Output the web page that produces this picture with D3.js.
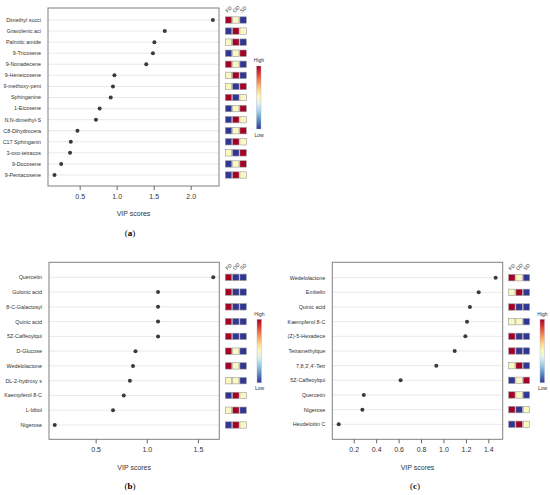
<!DOCTYPE html>
<html>
<head>
<meta charset="utf-8">
<script src="https://cdn.jsdelivr.net/npm/d3@7"></script>
<style>
  body { margin: 0; background: white; }
  svg { font-family: "Liberation Sans", Arial, sans-serif; }
</style>
</head>
<body>
<svg id="chart" width="550" height="495"></svg>
<script>
// group names for the heatmap columns
const groups = ["FD", "OD", "SD"];

// panel (a)
const namesA = ["Dimethyl succi", "Gravolenic aci", "Palmitic amide", "9-Tricosene", "9-Nonadecene",
    "9-Heneicosene", "9-methoxy-pent", "Sphinganine", "1-Eicosene", "N,N-dimethyl-S",
    "C8-Dihydrocera", "C17 Sphinganin", "3-oxo-tetracos", "9-Docosene", "9-Pentacosene"];
const vipA = [2.30, 1.65, 1.51, 1.49, 1.40, 0.97, 0.95, 0.92, 0.77, 0.72, 0.47, 0.38, 0.37, 0.25, 0.16];
// 1 = high, 0 = middle, -1 = low
const heatA = [[1, 0, -1], [-1, 1, 0], [0, 1, -1], [-1, 0, 1], [1, 0, -1],
    [0, 1, -1], [0, -1, 1], [1, -1, 0], [-1, 0, 1], [-1, 1, 0],
    [-1, 0, 1], [-1, 1, 0], [0, -1, 1], [-1, 0, 1], [-1, 1, 0]];
const ticksA = [0.5, 1.0, 1.5, 2.0];

// panel (b)
const namesB = ["Quercetin", "Gulonic acid", "8-C-Galactosyl", "Quinic acid", "5Z-Caffeoylqui",
    "D-Glucose", "Wedelolactone", "DL-2-hydroxy s", "Kaempferol 8-C", "L-Iditol", "Nigerose"];
const vipB = [1.65, 1.11, 1.11, 1.11, 1.11, 0.89, 0.865, 0.835, 0.775, 0.67, 0.10];
const heatB = [[1, -1, -1], [1, -1, -1], [1, -1, -1], [1, -1, -1], [1, -1, -1],
    [1, 0, -1], [1, 0, -1], [0, 0, -1], [-1, 1, 0], [0, 1, -1], [-1, 1, 0]];
const ticksB = [0.5, 1.0, 1.5];

// panel (c)
const namesC = ["Wedelolactone", "Embelin", "Quinic acid", "Kaempferol 8-C", "(Z)-5-Hexadece",
    "Tetramethylque", "7,8,3',4'-Tetr", "5Z-Caffeoylqui", "Quercetin", "Nigerose", "Heudelottin C"];
const vipC = [1.465, 1.314, 1.236, 1.21, 1.195, 1.10, 0.936, 0.618, 0.29, 0.277, 0.066];
const heatC = [[1, 0, -1], [0, 1, -1], [1, -1, -1], [0, 0, -1], [1, -1, -1],
    [1, -1, -1], [0, 1, -1], [-1, 0, 1], [1, 0, -1], [1, -1, 0], [-1, 1, 0]];
const ticksC = [0.2, 0.4, 0.6, 0.8, 1.0, 1.2, 1.4];

const svg = d3.select("#chart");

// shared colour scale for heat cells and legend
const color = d3.scaleSequential(t => d3.interpolateRdYlBu(1 - t)).domain([-1, 1]);

// vertical gradient for the colour keys
const grad = svg.append("defs").append("linearGradient")
    .attr("id", "key").attr("x1", 0).attr("y1", 1).attr("x2", 0).attr("y2", 0);
d3.range(0, 1.001, 0.1).forEach(t => {
    grad.append("stop").attr("offset", t).attr("stop-color", color(-1 + 2 * t));
});

// draws one VIP panel
function drawPanel(p) {
    const g = svg.append("g");

    const x = d3.scaleLinear().domain(p.domain).range([p.left, p.right]);
    const y = d3.scalePoint().domain(p.names).range([p.rowTop, p.rowBottom]);

    // grid lines
    g.selectAll(".grid").data(p.names).enter().append("line")
        .attr("x1", p.left).attr("x2", p.right)
        .attr("y1", d => y(d)).attr("y2", d => y(d))
        .attr("stroke", "#e6e6e6").attr("stroke-width", 0.9);

    // frame
    g.append("rect")
        .attr("x", p.left).attr("y", p.top)
        .attr("width", p.right - p.left).attr("height", p.bottom - p.top)
        .attr("fill", "none").attr("stroke", "#808080").attr("stroke-width", 1);

    // row labels
    g.selectAll(".lab").data(p.names).enter().append("text")
        .attr("x", p.left - 7).attr("y", d => y(d))
        .attr("dy", "0.35em").attr("text-anchor", "end")
        .style("font-size", "5.4px").attr("fill", "#333")
        .text(d => d);

    // points
    g.selectAll(".pt").data(p.vip).enter().append("circle")
        .attr("cx", d => x(d)).attr("cy", (d, i) => y(p.names[i]))
        .attr("r", 2).attr("fill", "#3a3a3a");

    // x axis
    const axis = g.append("g")
        .attr("transform", "translate(0," + p.bottom + ")")
        .call(d3.axisBottom(x).tickValues(p.ticks).tickFormat(d3.format(".1f")).tickSize(4).tickPadding(4));
    axis.select(".domain").remove();
    axis.selectAll("line").attr("stroke", "#666");
    axis.selectAll("text").style("font-size", "7px").attr("fill", "#333");

    // axis title
    g.append("text")
        .attr("x", (p.left + p.right) / 2).attr("y", p.bottom + 28)
        .attr("dy", "0.35em").attr("text-anchor", "middle")
        .style("font-size", "7px").attr("fill", "#333")
        .text("VIP scores");

    // panel caption
    g.append("text")
        .attr("x", p.captionX).attr("y", p.bottom + 47)
        .attr("dy", "0.35em").attr("text-anchor", "middle")
        .style("font-family", "'Liberation Serif', 'Times New Roman', serif")
        .style("font-size", "9px").attr("fill", "#000")
        .html("(<tspan font-weight='bold'>" + p.caption + "</tspan>)");

    // heat cells
    const cell = 7;
    const rows = g.selectAll(".hrow").data(p.heat).enter().append("g")
        .attr("transform", (d, i) => "translate(" + p.heatX + "," + (y(p.names[i]) - cell / 2) + ")");
    rows.selectAll("rect").data(d => d).enter().append("rect")
        .attr("x", (d, j) => j * (cell + 0.3) + 0.3).attr("y", 0.3)
        .attr("width", cell - 0.6).attr("height", cell - 0.6)
        .attr("fill", d => color(d))
        .attr("stroke", "#9a9a9a").attr("stroke-width", 0.6);

    // column headers
    g.selectAll(".col").data(groups).enter().append("text")
        .attr("transform", (d, j) => "translate(" + (p.heatX + j * (cell + 0.3) + cell / 2 - 1) + "," + (p.rowTop - 7) + ") rotate(-45)")
        .style("font-size", "5px").attr("fill", "#333")
        .text(d => d);

    // colour key
    g.append("rect")
        .attr("x", p.keyX).attr("y", p.keyTop)
        .attr("width", 4.5).attr("height", p.keyBottom - p.keyTop)
        .attr("fill", "url(#key)").attr("stroke", "#b0b0d0").attr("stroke-width", 0.4);
    g.append("text")
        .attr("x", p.keyX + 2.5).attr("y", p.keyTop - 5.5)
        .attr("dy", "0.35em").attr("text-anchor", "middle")
        .style("font-size", "5px").attr("fill", "#333").text("High");
    g.append("text")
        .attr("x", p.keyX + 2.5).attr("y", p.keyBottom + 6)
        .attr("dy", "0.35em").attr("text-anchor", "middle")
        .style("font-size", "5px").attr("fill", "#333").text("Low");
}

drawPanel({
    names: namesA, vip: vipA, heat: heatA, ticks: ticksA, caption: "a",
    domain: [0.072, 2.383], left: 48, right: 219, top: 8, bottom: 186,
    rowTop: 20, rowBottom: 175, heatX: 225, keyX: 256.5, keyTop: 66, keyBottom: 129,
    captionX: 130
});

drawPanel({
    names: namesB, vip: vipB, heat: heatB, ticks: ticksB, caption: "b",
    domain: [0.044, 1.709], left: 49, right: 219.3, top: 262.3, bottom: 439.3,
    rowTop: 277.3, rowBottom: 425, heatX: 225, keyX: 257, keyTop: 319.3, keyBottom: 382.7,
    captionX: 130
});

drawPanel({
    names: namesC, vip: vipC, heat: heatC, ticks: ticksC, caption: "c",
    domain: [0.009, 1.528], left: 332.3, right: 502.7, top: 262.3, bottom: 439.3,
    rowTop: 277.7, rowBottom: 424.3, heatX: 508.3, keyX: 540, keyTop: 319.3, keyBottom: 382.7,
    captionX: 415
});
</script>
</body>
</html>
